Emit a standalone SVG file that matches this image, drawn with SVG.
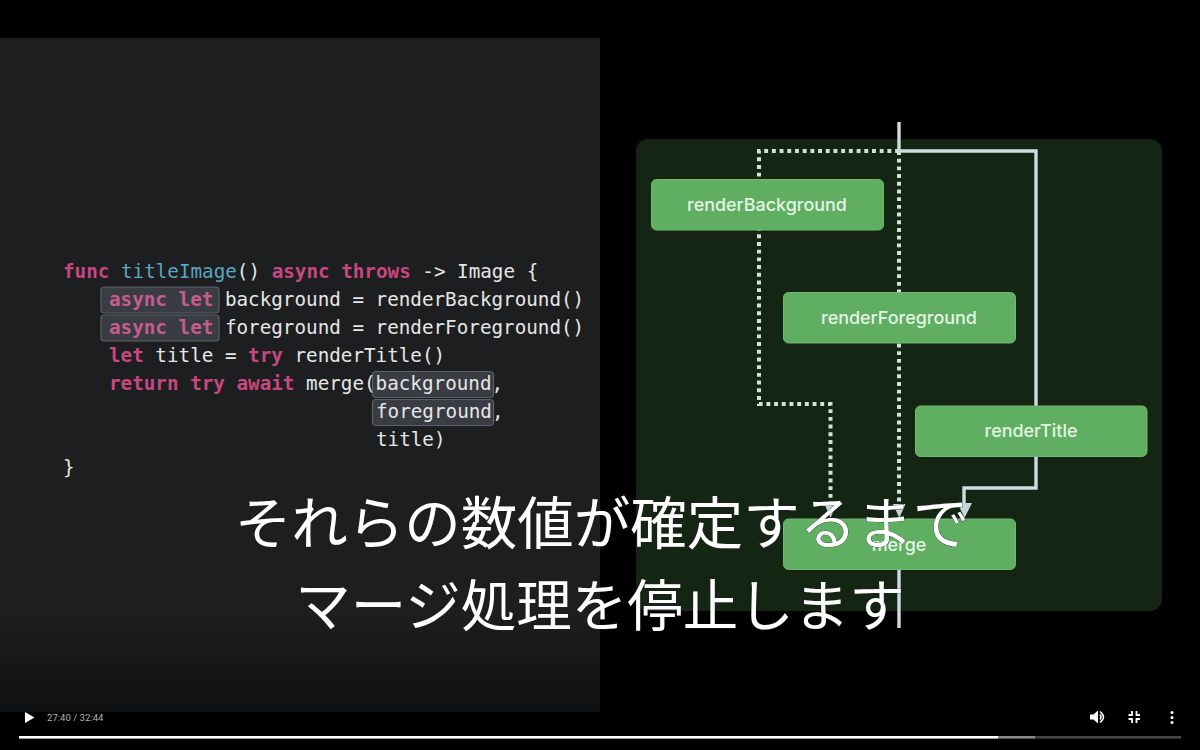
<svg xmlns="http://www.w3.org/2000/svg" width="1200" height="750" viewBox="0 0 1200 750">
<style>
.code{font-family:"DejaVu Sans Mono","Liberation Mono",monospace;font-size:19.25px;fill:#e6e6e6;white-space:pre}
.k{fill:#c9477f;font-weight:700}
.kl{fill:#c65c8d;font-weight:700}
.fn{fill:#5aa5c2}
.hl{fill:#393c43;stroke:#5c6068;stroke-width:1.2}
.node rect{fill:#5fae62;stroke:#70b873;stroke-width:1}
.node text{font-family:Inter,"Liberation Sans",sans-serif;font-size:17.95px;font-weight:500;fill:#e4f4e4;text-anchor:middle}
.solid{fill:none;stroke:#cfdbe0;stroke-width:3.4}
.dot{fill:none;stroke:#d3e0dc;stroke-width:4;stroke-dasharray:3.9 3.8}
.cap{font-family:"Noto Sans CJK JP",sans-serif;font-weight:400;fill:#fff;stroke:#222;stroke-width:.6;paint-order:stroke;text-anchor:middle}
.ah{fill:#c6d3da}
</style>
<defs>
<linearGradient id="codeBg" x1="0" y1="0" x2="0" y2="1">
<stop offset="0" stop-color="#1d1e20"/><stop offset=".85" stop-color="#1d1e20"/><stop offset="1" stop-color="#0f1011"/>
</linearGradient>
</defs>
<rect width="1200" height="750" fill="#000"/>
<rect id="code-panel" x="0" y="38" width="600" height="674" fill="url(#codeBg)"/>
<rect id="diagram-panel" x="636" y="139" width="526" height="472" rx="12" fill="#142613"/>

<g id="highlights">
<rect class="hl" x="101" y="287" width="118" height="26" rx="3.500"/>
<rect class="hl" x="101" y="315" width="118" height="26" rx="3.500"/>
<rect class="hl" x="372.500" y="371.500" width="121" height="26" rx="3.500"/>
<rect class="hl" x="372.500" y="399.500" width="121" height="26" rx="3.500"/>
</g>
<g id="code">
<text class="code" x="63" y="278"><tspan class="k">func</tspan> <tspan class="fn">titleImage</tspan>() <tspan class="k">async</tspan> <tspan class="k">throws</tspan> -&gt; Image {</text>
<text class="code" x="109" y="306"><tspan class="kl">async</tspan> <tspan class="kl">let</tspan> background = renderBackground()</text>
<text class="code" x="109" y="334"><tspan class="kl">async</tspan> <tspan class="kl">let</tspan> foreground = renderForeground()</text>
<text class="code" x="109" y="362"><tspan class="k">let</tspan> title = <tspan class="k">try</tspan> renderTitle()</text>
<text class="code" x="109" y="390"><tspan class="k">return</tspan> <tspan class="k">try</tspan> <tspan class="k">await</tspan> merge(background,</text>
<text class="code" x="376" y="418">foreground,</text>
<text class="code" x="376" y="446">title)</text>
<text class="code" x="63" y="474">}</text>
</g>

<g id="connectors">
<path class="dot" d="M899 151H759V404H830.500V506"/>
<path class="dot" d="M899 151V506"/>
<path class="solid" d="M899 122V151H1036V488H964V506"/>
<path class="solid" d="M899 570V628"/>
<path class="ah" d="M824.500 504H836.500L830.500 518Z"/>
<path class="ah" d="M893 504H905.500L899.300 518Z"/>
<path class="ah" d="M957.500 503H972L964.500 518Z"/>
</g>

<g id="renderBackground" class="node"><rect x="651.500" y="179.500" width="232" height="50.500" rx="5"/><text x="767" y="211">renderBackground</text></g>
<g id="renderForeground" class="node"><rect x="783.500" y="292.500" width="232" height="50.500" rx="5"/><text x="899" y="324">renderForeground</text></g>
<g id="renderTitle" class="node"><rect x="915.500" y="406" width="231.500" height="50.500" rx="5"/><text x="1031" y="437">renderTitle</text></g>
<g id="merge" class="node"><rect x="783.500" y="519" width="232" height="50.500" rx="5"/><text x="899" y="551">merge</text></g>

<g id="captions">
<text class="cap" x="602" y="544" font-size="56.500">それらの数値が確定するまで</text>
<text class="cap" x="600" y="626" font-size="55.500">マージ処理を停止します</text>
</g>

<g id="player">
<path d="M25 712L34.500 717.500L25 723Z" fill="#fff"/>
<text x="47" y="720.500" font-family="Roboto,'Liberation Sans',sans-serif" font-size="9.600" fill="#b0b0b0">27:40 / 32:44</text>
<rect x="19" y="736" width="979" height="2.600" fill="#fff"/>
<rect x="998" y="736" width="37" height="2.600" fill="#8a8a8a"/>
<rect x="1035" y="736" width="146" height="2.600" fill="#444"/>
<path d="M1090 714.500H1093.500L1098 710.500V723.500L1093.500 719.500H1090Z" fill="#fff"/>
<path d="M1100 714.500Q1102 717 1100 719.500M1100 711.500Q1107 717 1100 722.500" fill="none" stroke="#fff" stroke-width="1.500"/>
<path d="M1132 711V715H1128.500M1136.500 711V715H1140M1132 723V719H1128.500M1136.500 723V719H1140" fill="none" stroke="#fff" stroke-width="1.800"/>
<g fill="#fff"><circle cx="1172" cy="712.500" r="1.500"/><circle cx="1172" cy="717.500" r="1.500"/><circle cx="1172" cy="722.500" r="1.500"/></g>
</g>
</svg>
